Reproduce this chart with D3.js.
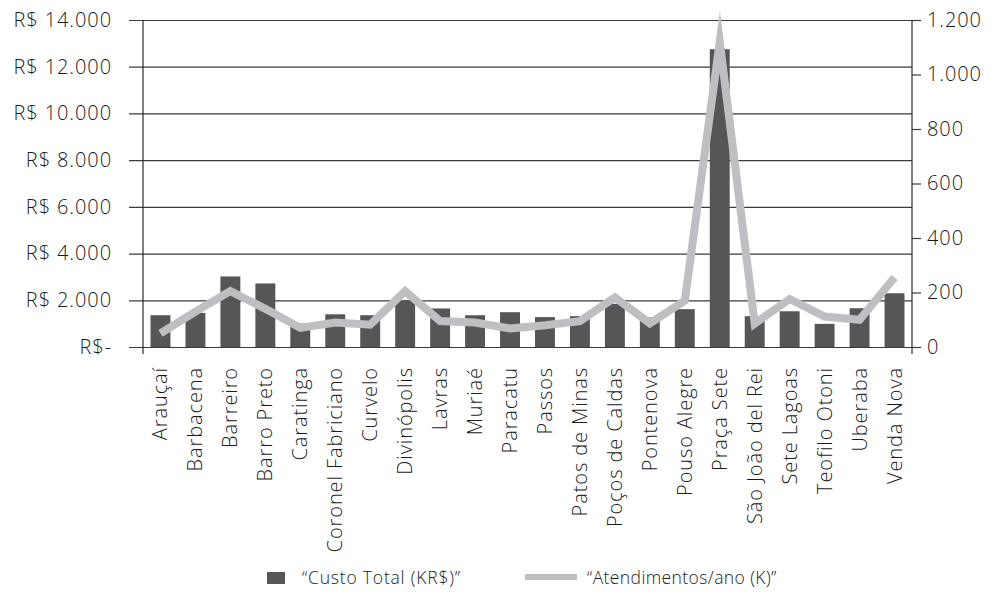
<!DOCTYPE html>
<html>
<head>
<meta charset="utf-8">
<script src="https://cdn.jsdelivr.net/npm/d3@7"></script>
<style>
  body { margin: 0; background: #fff; }
  text { font-family: "Open Sans", "Lato", sans-serif; font-weight: 300; fill: #1a1a1a; }
</style>
</head>
<body>
<svg id="chart" width="998" height="593"></svg>
<script>
const categories = ["Arauçaí", "Barbacena", "Barreiro", "Barro Preto", "Caratinga",
  "Coronel Fabriciano", "Curvelo", "Divinópolis", "Lavras", "Muriaé", "Paracatu",
  "Passos", "Patos de Minas", "Poços de Caldas", "Pontenova", "Pouso Alegre",
  "Praça Sete", "São João del Rei", "Sete Lagoas", "Teofilo Otoni", "Uberaba", "Venda Nova"];

// Custo Total (KR$)
const custo = [1360, 1460, 3020, 2720, 1000, 1400, 1360, 2000, 1650, 1360, 1490,
  1280, 1320, 1850, 1260, 1620, 12750, 1320, 1530, 990, 1660, 2300];

// Atendimentos/ano (K)
const atendimentos = [50, 130, 205, 140, 70, 90, 82, 205, 95, 90, 68,
  80, 95, 182, 87, 170, 1120, 86, 176, 112, 100, 255];

const leftTicks = [0, 2000, 4000, 6000, 8000, 10000, 12000, 14000];
const rightTicks = [0, 200, 400, 600, 800, 1000, 1200];

const barColor = "#555658";
const lineColor = "#bebfc2";

const svg = d3.select("#chart");
const plotLeft = 143, plotRight = 912, plotTop = 20, plotBottom = 347;

const fmtThousands = d3.formatLocale({ decimal: ",", thousands: ".", grouping: [3], currency: ["R$ ", ""] }).format(",d");

const xScale = d3.scaleBand()
  .domain(categories)
  .range([plotLeft, plotRight])
  .paddingInner(0.43)
  .paddingOuter(0.215);

const yLeft = d3.scaleLinear().domain([0, 14000]).range([plotBottom, plotTop]);
const yRight = d3.scaleLinear().domain([0, 1200]).range([plotBottom, plotTop]);

// gridlines + left ticks
const yAxisL = d3.axisLeft(yLeft)
  .tickValues(leftTicks)
  .tickSize(-(plotRight - plotLeft))
  .tickSizeOuter(0)
  .tickFormat(d => d === 0 ? "R$-" : "R$ " + fmtThousands(d));

const gL = svg.append("g")
  .attr("transform", `translate(${plotLeft},0)`)
  .call(yAxisL);
gL.select(".domain").remove();
gL.selectAll(".tick line")
  .attr("x1", -14)
  .attr("stroke", "#3a3a3a")
  .attr("stroke-width", 1.2);
gL.selectAll(".tick text")
  .attr("x", -31)
  .style("font-size", "20px")
  .style("letter-spacing", "0.9px")
  .style("fill", "#1a1a1a");

// right axis
const yAxisR = d3.axisRight(yRight)
  .tickValues(rightTicks)
  .tickSize(9)
  .tickSizeOuter(0)
  .tickPadding(6)
  .tickFormat(d => fmtThousands(d));

const gR = svg.append("g")
  .attr("transform", `translate(${plotRight},0)`)
  .call(yAxisR);
gR.select(".domain").remove();
gR.selectAll(".tick line").attr("stroke", "#3a3a3a").attr("stroke-width", 1.2);
gR.selectAll(".tick text")
  .style("font-size", "20px")
  .style("letter-spacing", "0.9px")
  .style("fill", "#1a1a1a");

// bars
svg.append("g")
  .selectAll("rect")
  .data(categories.map((c, i) => ({ name: c, v: custo[i] })))
  .join("rect")
  .attr("x", d => xScale(d.name))
  .attr("y", d => yLeft(d.v))
  .attr("width", xScale.bandwidth())
  .attr("height", d => yLeft(0) - yLeft(d.v))
  .attr("fill", barColor);

// axis lines
svg.append("line")
  .attr("x1", plotLeft).attr("x2", plotLeft)
  .attr("y1", plotTop).attr("y2", plotBottom + 7)
  .attr("stroke", "#2b2b2b").attr("stroke-width", 1.2);
svg.append("line")
  .attr("x1", plotRight).attr("x2", plotRight)
  .attr("y1", plotTop).attr("y2", plotBottom + 7)
  .attr("stroke", "#2b2b2b").attr("stroke-width", 1.2);

// line
const line = d3.line()
  .x((d, i) => xScale(categories[i]) + xScale.bandwidth() / 2)
  .y(d => yRight(d));

svg.append("path")
  .datum(atendimentos)
  .attr("d", line)
  .attr("fill", "none")
  .attr("stroke", lineColor)
  .attr("stroke-width", 8)
  .attr("stroke-linejoin", "miter")
  .attr("stroke-miterlimit", 12);

// x labels
const gX = svg.append("g")
  .attr("transform", `translate(0,${plotBottom})`)
  .call(d3.axisBottom(xScale).tickSize(0).tickPadding(0));
gX.select(".domain").remove();
gX.selectAll(".tick text")
  .attr("transform", "rotate(-90)")
  .attr("x", -20)
  .attr("y", 0)
  .attr("dy", "0.35em")
  .style("text-anchor", "end")
  .style("font-size", "20px")
  .style("letter-spacing", "0.9px")
  .style("fill", "#1a1a1a");

// legend
const legend = svg.append("g").style("font-size", "17.5px").style("letter-spacing", "0.8px");
legend.append("rect")
  .attr("x", 267).attr("y", 572).attr("width", 18).attr("height", 12)
  .attr("fill", barColor);
legend.append("text")
  .attr("x", 302).attr("y", 584)
  .text("“Custo Total (KR$)”");
legend.append("line")
  .attr("x1", 525).attr("x2", 577).attr("y1", 577).attr("y2", 577)
  .attr("stroke", lineColor).attr("stroke-width", 6);
legend.append("text")
  .attr("x", 587).attr("y", 584)
  .style("letter-spacing", "0.4px")
  .text("“Atendimentos/ano (K)”");
</script>
</body>
</html>
